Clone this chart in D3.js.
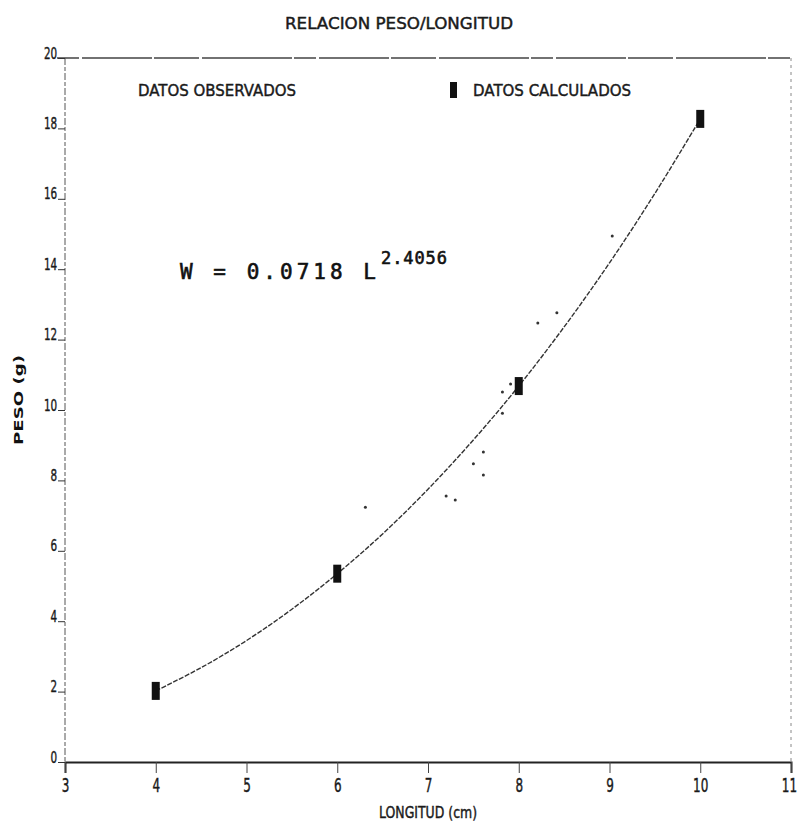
<!DOCTYPE html>
<html>
<head>
<meta charset="utf-8">
<script src="https://cdn.jsdelivr.net/npm/d3@7/dist/d3.min.js"></script>
<style>
  body { margin: 0; background: #fff; }
  svg { display: block; }
  .plot-text { font-family: "DejaVu Sans", sans-serif; font-weight: normal; fill: #1a1a1a; stroke: #1a1a1a; stroke-width: 0.45px; }
</style>
</head>
<body>
<svg id="chart" width="797" height="829"></svg>
<script>
// chart data
const xTicks = [3, 4, 5, 6, 7, 8, 9, 10, 11];
const yTicks = [0, 2, 4, 6, 8, 10, 12, 14, 16, 18, 20];

// datos observados (small dots)
const obsLongitud = [6.31, 7.20, 7.30, 7.50, 7.61, 7.61, 7.82, 7.82, 7.91, 8.21, 8.42, 9.03];
const obsPeso     = [7.24, 7.56, 7.44, 8.47, 8.81, 8.15, 9.91, 10.51, 10.74, 12.47, 12.76, 14.94];

// datos calculados (big markers)
const calcLongitud = [4, 6, 8, 10];
const calcPeso     = [2.02, 5.35, 10.68, 18.27];

// fitted curve
const curveLongitud = [4, 4.5, 5, 5.5, 6, 6.5, 7, 7.5, 8, 8.5, 9, 9.5, 10];
const curvePeso     = [2.02, 2.68, 3.45, 4.34, 5.35, 6.48, 7.75, 9.15, 10.68, 12.36, 14.18, 16.15, 18.27];

const svg = d3.select("#chart");

const x = d3.scaleLinear().domain([3, 11]).range([65, 791]);
const y = d3.scaleLinear().domain([0, 20]).range([762, 58]);

// frame: dashed top / left / right, solid bottom
svg.append("line")
  .attr("x1", x(3) - 8).attr("x2", x(11)).attr("y1", y(20)).attr("y2", y(20))
  .attr("stroke", "#444").attr("stroke-width", 1.3).attr("stroke-dasharray", "22,3,70,2,45,3,90,2");
svg.append("line")
  .attr("x1", x(3)).attr("x2", x(3)).attr("y1", y(20)).attr("y2", y(0))
  .attr("stroke", "#555").attr("stroke-width", 1).attr("stroke-dasharray", "7,2,4,2");
svg.append("line")
  .attr("x1", x(11)).attr("x2", x(11)).attr("y1", y(20)).attr("y2", y(0))
  .attr("stroke", "#888").attr("stroke-width", 1).attr("stroke-dasharray", "3,4");

// x axis
const xAxis = d3.axisBottom(x).tickValues(xTicks).tickSize(11).tickFormat(d3.format("d"));
const gx = svg.append("g").attr("transform", "translate(0," + y(0) + ")").call(xAxis);
gx.select(".domain").attr("stroke", "#222").attr("stroke-width", 2);
gx.selectAll(".tick line").attr("stroke", "#444").attr("stroke-width", 1);
gx.selectAll(".tick text")
  .attr("class", "plot-text").attr("y", 15).attr("dy", "0.73em")
  .attr("transform", d => "translate(" + (d === 11 ? -2 : 0) + ",0) scale(0.6,1)")
  .style("font-size", "20px");

// y axis: label sits on the tick like a plotter
const yAxis = d3.axisLeft(y).tickValues(yTicks).tickSize(7).tickFormat(d3.format("d"));
const gy = svg.append("g").attr("transform", "translate(" + x(3) + ",0)").call(yAxis);
gy.select(".domain").remove();
gy.selectAll(".tick line").attr("stroke", "#333").attr("stroke-width", 1);
gy.selectAll(".tick text")
  .attr("class", "plot-text").attr("x", -12).attr("dy", "0")
  .attr("transform", "scale(0.65,1)")
  .style("font-size", "16px");

// fitted curve
const line = d3.line().x(d => x(d[0])).y(d => y(d[1])).curve(d3.curveCatmullRom);
svg.append("path")
  .datum(d3.zip(curveLongitud, curvePeso))
  .attr("fill", "none").attr("stroke", "#333").attr("stroke-width", 1.4)
  .attr("stroke-dasharray", "5,1.5")
  .attr("d", line);

// observed dots
svg.append("g").selectAll("circle")
  .data(d3.zip(obsLongitud, obsPeso))
  .join("circle")
  .attr("cx", d => x(d[0])).attr("cy", d => y(d[1]))
  .attr("r", 1.5).attr("fill", "#333");

// calculated markers
svg.append("g").selectAll("rect")
  .data(d3.zip(calcLongitud, calcPeso))
  .join("rect")
  .attr("x", d => x(d[0]) - 4).attr("y", d => y(d[1]) - 9)
  .attr("width", 8).attr("height", 18).attr("fill", "#111");

// title
svg.append("text").attr("class", "plot-text")
  .attr("x", 285).attr("y", 29)
  .attr("textLength", 228).attr("lengthAdjust", "spacingAndGlyphs")
  .style("font-size", "16px")
  .text("RELACION PESO/LONGITUD");

// legend
svg.append("text").attr("class", "plot-text")
  .attr("x", 138).attr("y", 96)
  .attr("textLength", 158).attr("lengthAdjust", "spacingAndGlyphs")
  .style("font-size", "16px")
  .text("DATOS OBSERVADOS");
svg.append("rect")
  .attr("x", 450).attr("y", 82).attr("width", 7).attr("height", 16).attr("fill", "#111");
svg.append("text").attr("class", "plot-text")
  .attr("x", 473).attr("y", 96)
  .attr("textLength", 158).attr("lengthAdjust", "spacingAndGlyphs")
  .style("font-size", "16px")
  .text("DATOS CALCULADOS");

// equation
const eq = svg.append("text")
  .attr("x", 180).attr("y", 279)
  .style("font-family", "'DejaVu Sans Mono', monospace")
  .style("font-size", "21px").style("fill", "#111")
  .style("stroke", "#111").style("stroke-width", "0.6px");
eq.append("tspan").attr("textLength", 196).attr("lengthAdjust", "spacing").text("W = 0.0718 L");
eq.append("tspan").attr("x", 381).attr("y", 264)
  .attr("textLength", 66).attr("lengthAdjust", "spacing")
  .style("font-size", "17px").text("2.4056");

// axis titles
svg.append("text").attr("class", "plot-text")
  .attr("x", 379).attr("y", 818)
  .attr("textLength", 98).attr("lengthAdjust", "spacingAndGlyphs")
  .style("font-size", "16px")
  .text("LONGITUD (cm)");
svg.append("text")
  .attr("transform", "translate(23,400) rotate(-90)")
  .attr("text-anchor", "middle")
  .attr("textLength", 90).attr("lengthAdjust", "spacingAndGlyphs")
  .style("font-family", "'DejaVu Sans', sans-serif").style("font-weight", "bold")
  .style("font-size", "12px").style("fill", "#111")
  .text("PESO (g)");
</script>
</body>
</html>
